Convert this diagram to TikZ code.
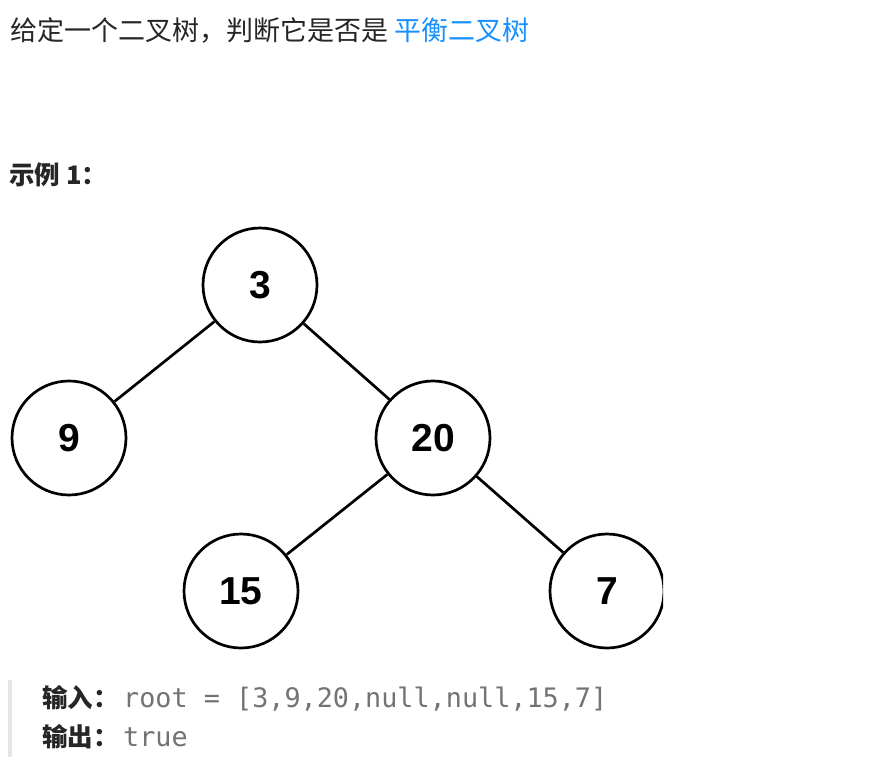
\documentclass[tikz,border=0pt]{standalone}
\usepackage{fontspec}
\setmainfont{Liberation Sans}
\setmonofont{DejaVu Sans Mono}
\newfontfamily\cjk{Noto Sans CJK SC}
\definecolor{linkblue}{RGB}{24,144,255}
\definecolor{textdark}{RGB}{38,38,38}
\definecolor{codegray}{RGB}{115,115,115}
\definecolor{quotebar}{RGB}{229,229,229}

\begin{document}
\begin{tikzpicture}[x=1pt, y=-1pt,
  treenode/.style={circle, draw, line width=2.7pt, minimum size=114pt,
    inner sep=0pt, font=\fontsize{39}{39}\selectfont\bfseries},
  treeedge/.style={line width=2.7pt},
  txt/.style={anchor=base west, inner sep=0pt, text=textdark},
  cjkbody/.style={font=\cjk\fontsize{27}{27}\selectfont},
  cjkbold/.style={font=\cjk\bfseries\fontsize{25.5}{25.5}\selectfont},
  code/.style={font=\ttfamily\fontsize{26.8}{26.8}\selectfont, text=codegray}]
  \useasboundingbox (0,0) rectangle (896,765);
  \fill[white] (0,0) rectangle (896,765);
  \node[txt, cjkbody] (title) at (10,41)
    {给定一个二叉树，判断它是否是 \textcolor{linkblue}{平衡二叉树}};
  \node[txt, cjkbold] (example) at (9,184) {示例 1：};
  \begin{scope}
    \clip (0,220) rectangle (663,655);
    \node[treenode] (n3) at (260,285) {3};
    \node[treenode] (n9) at (69,438) {9};
    \node[treenode] (n20) at (433,438) {20};
    \node[treenode] (n15) at (241,591) {15};
    \node[treenode] (n7) at (607,591) {7};
    \draw[treeedge] (n3) -- (n9);
    \draw[treeedge] (n3) -- (n20);
    \draw[treeedge] (n20) -- (n15);
    \draw[treeedge] (n20) -- (n7);
  \end{scope}
  \fill[quotebar] (8,680) rectangle (12,757);
  \node[txt, cjkbold] (inlab) at (42,707) {输入：};
  \node[txt, code] (inval) at (123,707) {root = [3,9,20,null,null,15,7]};
  \node[txt, cjkbold] (outlab) at (42,746) {输出：};
  \node[txt, code] (outval) at (123,746) {true};
\end{tikzpicture}
\end{document}
